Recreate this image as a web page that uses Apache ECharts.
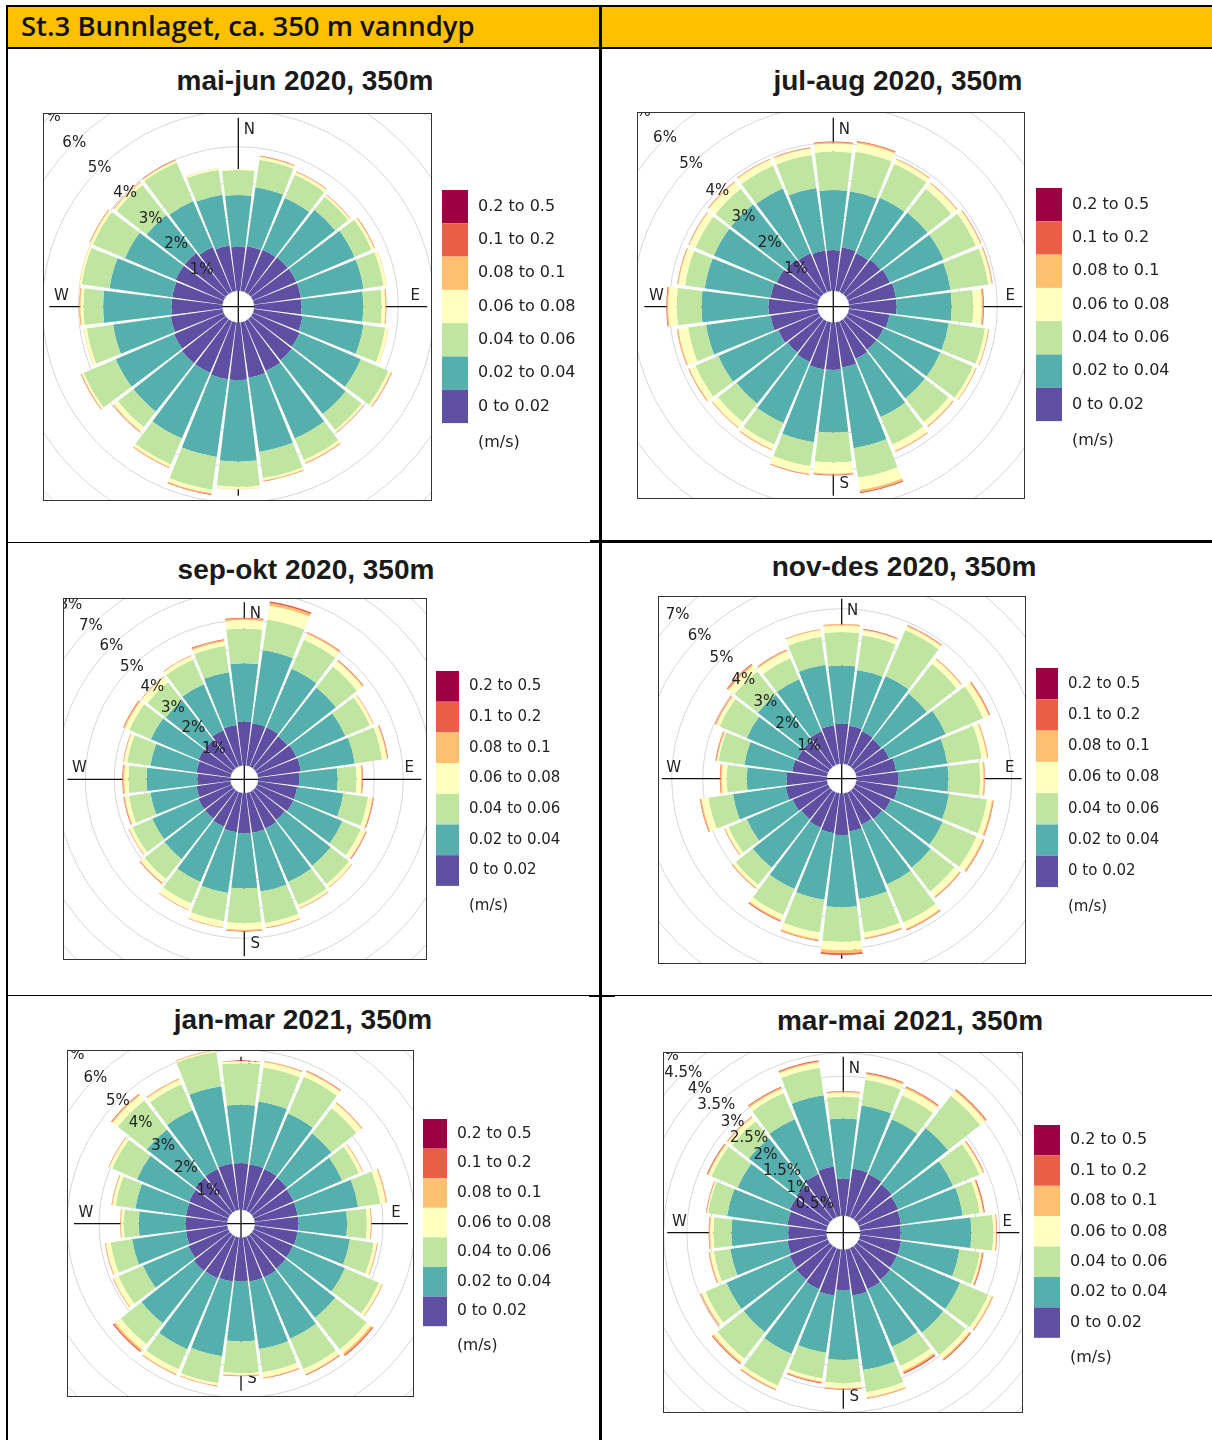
<!DOCTYPE html>
<html><head><meta charset="utf-8">
<script src="https://cdn.jsdelivr.net/npm/echarts@6/dist/echarts.min.js"></script>
<style>
html,body{margin:0;padding:0;background:#fff;}
body{width:1212px;height:1440px;position:relative;overflow:hidden;font-family:'Liberation Sans',Arial,sans-serif;}
.ln{position:absolute;background:#000;}
.ttl{position:absolute;width:420px;text-align:center;font-weight:bold;font-size:28px;line-height:32px;color:#1a1a1a;white-space:nowrap;}
.box{position:absolute;border:1px solid #333;box-sizing:border-box;}
.abs{position:absolute;}
</style></head><body>
<script>
// ---------------- data ----------------
const dirs = ['0','15','30','45','60','75','90','105','120','135','150','165','180','195','210','225','240','255','270','285','300','315','330','345'];
const bins = ['0 to 0.02','0.02 to 0.04','0.04 to 0.06','0.06 to 0.08','0.08 to 0.1','0.1 to 0.2','0.2 to 0.5'];
const binColors = ['#5E4FA2','#55AFAD','#BFE5A0','#FFFFBF','#FEBF6F','#EA5D47','#9E0142'];
const titles = ['mai-jun 2020, 350m','jul-aug 2020, 350m','sep-okt 2020, 350m','nov-des 2020, 350m','jan-mar 2021, 350m','mar-mai 2021, 350m'];
const headerText = 'St.3 Bunnlaget, ca. 350 m vanndyp';
const unitText = '(m/s)';
const compass = ['N','E','S','W'];
const none_02_05 = [0,0,0,0,0,0,0,0,0,0,0,0,0,0,0,0,0,0,0,0,0,0,0,0];

// mai-jun 2020 (% per direction, per speed bin)
const maijun_b1 = [1.22,1.25,1.28,1.30,1.31,1.31,1.31,1.36,1.41,1.45,1.50,1.55,1.59,1.59,1.55,1.55,1.50,1.45,1.41,1.41,1.45,1.45,1.36,1.27];
const maijun_b2 = [1.44,1.66,1.56,1.68,1.76,1.76,1.72,1.71,1.85,1.90,2.04,2.08,2.27,2.18,1.99,1.71,1.76,1.62,1.90,1.76,1.53,1.35,1.39,1.43];
const maijun_b3 = [0.69,0.77,0.70,0.46,0.51,0.56,0.51,0.61,0.83,0.56,0.65,0.74,0.70,0.92,0.78,0.55,0.97,0.74,0.55,0.78,0.97,1.06,1.16,0.70];
const maijun_b4 = [0.03,0.08,0.08,0.06,0.08,0.08,0.10,0.08,0.08,0.06,0.08,0.06,0.06,0.10,0.08,0.14,0.06,0.08,0.08,0.06,0.08,0.08,0.06,0.04];
const maijun_b5 = [0,0.02,0.02,0.01,0.02,0.01,0.02,0.01,0.02,0.01,0.02,0.02,0.01,0.03,0.02,0.02,0.02,0.01,0.02,0.01,0.02,0.02,0.02,0.01];
const maijun_b6 = [0,0.01,0.01,0.01,0.01,0,0.01,0,0.01,0.01,0.01,0.01,0,0.02,0.01,0.01,0.01,0,0.01,0,0.01,0.01,0.01,0];

// jul-aug 2020
const julaug_b1 = [1.10,1.19,1.14,1.19,1.23,1.28,1.28,1.10,1.05,1.05,1.10,1.23,1.28,1.28,1.19,1.14,1.19,1.28,1.32,1.28,1.23,1.19,1.14,1.10];
const julaug_b2 = [1.62,1.53,1.63,1.62,1.58,1.49,1.49,1.62,1.67,1.67,1.71,2.20,1.69,1.99,1.80,1.76,1.76,1.76,1.81,1.80,1.85,1.89,1.90,1.71];
const julaug_b3 = [1.04,1.08,0.99,0.81,0.95,1.03,0.58,0.99,0.95,0.81,0.81,0.81,0.81,0.65,0.63,0.63,0.67,0.49,0.67,0.54,0.54,0.54,0.67,0.90];
const julaug_b4 = [0.22,0.23,0.13,0.18,0.13,0.09,0.23,0.09,0.09,0.14,0.18,0.33,0.30,0.21,0.14,0.18,0.18,0.27,0.23,0.18,0.18,0.23,0.18,0.18];
const julaug_b5 = [0.03,0.04,0.02,0.02,0.02,0.02,0.04,0.01,0.01,0.02,0.02,0.06,0.03,0.02,0.02,0.02,0.02,0.03,0.03,0.02,0.02,0.02,0.02,0.02];
const julaug_b6 = [0.02,0.02,0.01,0.01,0.01,0.01,0.02,0.01,0.01,0.01,0.01,0.03,0.02,0.01,0.01,0.01,0.01,0.01,0.02,0.01,0.01,0.01,0.01,0.01];

// sep-okt 2020
const sepokt_b1 = [1.51,1.47,1.47,1.41,1.47,1.49,1.41,1.36,1.36,1.30,1.36,1.38,1.38,1.36,1.30,1.24,1.24,1.18,1.14,1.18,1.24,1.24,1.36,1.41];
const sepokt_b2 = [2.01,2.54,2.19,2.13,1.84,1.88,1.33,1.61,1.84,2.01,2.01,2.05,1.90,2.12,2.07,1.78,1.73,1.61,1.75,1.61,1.78,1.73,1.72,1.84];
const sepokt_b3 = [1.20,1.07,1.09,0.92,0.92,0.95,0.65,0.86,0.69,0.80,0.86,1.09,1.20,0.98,0.81,0.87,0.74,0.75,0.63,0.81,0.81,0.80,0.92,0.92];
const sepokt_b4 = [0.29,0.48,0.23,0.23,0.11,0.16,0.17,0.15,0.17,0.12,0.11,0.15,0.23,0.21,0.22,0.17,0.12,0.14,0.14,0.11,0.17,0.23,0.14,0.15];
const sepokt_b5 = [0.05,0.10,0.04,0.04,0.02,0.03,0.03,0.03,0.03,0.02,0.02,0.03,0.04,0.02,0.02,0.03,0.02,0.03,0.05,0.02,0.04,0.02,0.02,0.05];
const sepokt_b6 = [0.03,0.05,0.02,0.02,0.01,0.02,0.02,0.02,0.02,0.01,0.01,0.01,0.02,0.01,0.01,0.02,0.01,0.02,0.02,0.01,0.02,0.01,0.01,0.03];

// nov-des 2020
const novdes_b1 = [1.29,1.24,1.18,1.13,1.18,1.29,1.34,1.34,1.24,1.18,1.13,1.24,1.34,1.29,1.24,1.18,1.24,1.34,1.29,1.13,1.08,1.08,1.18,1.26];
const novdes_b2 = [1.88,1.82,1.94,1.88,1.99,1.67,1.62,1.67,1.82,1.99,2.10,2.20,2.32,2.17,2.15,1.99,1.61,1.72,1.29,1.56,1.77,1.88,1.83,1.97];
const novdes_b3 = [1.08,1.13,1.61,1.22,1.31,1.12,1.02,1.24,1.19,0.97,1.34,1.09,1.12,1.07,0.91,0.70,0.64,0.80,0.65,0.84,0.95,0.96,0.73,0.91];
const novdes_b4 = [0.21,0.16,0.13,0.18,0.19,0.17,0.11,0.16,0.21,0.21,0.21,0.16,0.27,0.22,0.16,0.11,0.11,0.22,0.16,0.05,0.12,0.23,0.25,0.21];
const novdes_b5 = [0.04,0.03,0.03,0.03,0.04,0.03,0.04,0.04,0.04,0.03,0.04,0.03,0.10,0.04,0.05,0.03,0.02,0.04,0.04,0.03,0.03,0.05,0.04,0.03];
const novdes_b6 = [0.01,0.02,0.02,0.01,0.02,0.01,0.01,0.02,0.02,0.02,0.02,0.02,0.05,0.02,0.03,0.01,0.01,0.02,0.02,0.02,0.02,0.03,0.02,0.01];

// jan-mar 2021
const janmar_b1 = [1.46,1.44,1.42,1.39,1.35,1.35,1.36,1.35,1.33,1.35,1.39,1.39,1.36,1.39,1.42,1.44,1.35,1.30,1.30,1.30,1.33,1.39,1.42,1.46];
const janmar_b2 = [1.82,1.98,1.89,1.77,1.65,1.91,1.52,1.65,1.77,1.96,2.08,2.13,1.88,2.36,2.41,2.08,1.55,1.70,1.46,1.60,1.77,1.92,2.00,2.44];
const janmar_b3 = [1.30,1.07,1.25,0.99,0.57,0.70,0.62,0.75,1.15,1.25,1.04,0.73,0.99,0.85,0.68,0.83,0.83,0.68,0.47,0.62,0.84,1.15,0.88,1.08];
const janmar_b4 = [0.06,0.17,0.16,0.20,0.11,0.17,0.12,0.10,0.10,0.16,0.16,0.16,0.07,0.07,0.16,0.21,0.16,0.15,0.08,0.10,0.10,0.21,0.16,0.05];
const janmar_b5 = [0.01,0.03,0.03,0.03,0.02,0.03,0.02,0.02,0.02,0.06,0.03,0.03,0.02,0.02,0.03,0.06,0.02,0.02,0.02,0.02,0.02,0.04,0.03,0.01];
const janmar_b6 = [0.01,0.01,0.02,0.01,0.01,0.01,0.01,0.01,0.01,0.04,0.02,0.01,0.01,0.01,0.01,0.04,0.01,0.01,0.01,0.01,0.01,0.02,0.01,0.01];

// mar-mai 2021
const marmai_b1 = [0.80,1.03,1.00,0.96,0.92,0.89,0.87,0.89,0.89,0.92,0.96,1.00,0.87,1.00,0.96,0.92,0.89,0.85,0.82,0.85,0.89,0.92,1.00,1.07];
const marmai_b2 = [1.29,1.37,1.29,1.54,1.28,1.34,1.52,1.27,1.48,1.45,1.34,1.62,1.50,1.24,1.51,1.44,1.48,1.24,1.22,1.31,1.22,1.30,1.29,1.55];
const marmai_b3 = [0.47,0.56,0.56,0.88,0.62,0.37,0.47,0.44,0.66,0.61,0.45,0.48,0.50,0.56,0.74,0.72,0.49,0.36,0.39,0.41,0.61,0.46,0.61,0.60];
const marmai_b4 = [0.09,0.11,0.16,0.13,0.08,0.07,0.06,0.04,0.08,0.10,0.12,0.11,0.11,0.07,0.08,0.10,0.09,0.08,0.07,0.03,0.07,0.11,0.10,0.11];
const marmai_b5 = [0.02,0.03,0.03,0.03,0.02,0.02,0.01,0.02,0.02,0.03,0.04,0.02,0.02,0.02,0.02,0.03,0.02,0.02,0.02,0.01,0.02,0.02,0.03,0.03];
const marmai_b6 = [0.01,0.02,0.02,0.02,0.01,0.02,0.01,0.02,0.01,0.02,0.03,0.01,0.01,0.02,0.01,0.02,0.01,0.01,0.01,0.01,0.02,0.01,0.02,0.02];

// ---------------- layout (positions only) ----------------
const panels = [
  {title:titles[0], tx:305, ty:81, box:[43,113,389,388], c:[238.3,306.7], off:16, k:36, max:7, step:1, L:189,
   data:[maijun_b1,maijun_b2,maijun_b3,maijun_b4,maijun_b5,maijun_b6,none_02_05], leg:[442,190,26,33.3,16]},
  {title:titles[1], tx:898, ty:81, box:[637,112,388,387], c:[833.3,306.7], off:16, k:37, max:7, step:1, L:189,
   data:[julaug_b1,julaug_b2,julaug_b3,julaug_b4,julaug_b5,julaug_b6,none_02_05], leg:[1036,188,26,33.3,16]},
  {title:titles[2], tx:306, ty:570, box:[63,598,364,362], c:[244.3,779.3], off:14, k:29, max:8, step:1, L:177,
   data:[sepokt_b1,sepokt_b2,sepokt_b3,sepokt_b4,sepokt_b5,sepokt_b6,none_02_05], leg:[436,671,23,30.7,15]},
  {title:titles[3], tx:904, ty:567, box:[658,596,368,368], c:[841.7,778.7], off:15, k:31, max:8, step:1, L:180,
   data:[novdes_b1,novdes_b2,novdes_b3,novdes_b4,novdes_b5,novdes_b6,none_02_05], leg:[1036,668,22,31.3,15]},
  {title:titles[4], tx:303, ty:1020, box:[67,1050,347,347], c:[241,1223.7], off:14, k:32, max:7, step:1, L:167,
   data:[janmar_b1,janmar_b2,janmar_b3,janmar_b4,janmar_b5,janmar_b6,none_02_05], leg:[423,1119,24,29.6,15.5]},
  {title:titles[5], tx:910, ty:1021, box:[663,1052,360,361], c:[843.3,1232.7], off:17, k:46.5, max:5, step:0.5, L:176,
   data:[marmai_b1,marmai_b2,marmai_b3,marmai_b4,marmai_b5,marmai_b6,none_02_05], leg:[1034,1125,26,30.4,16]}
];

function el(cls, css, text){
  const d = document.createElement('div');
  if (cls) d.className = cls;
  Object.assign(d.style, css);
  if (text !== undefined) d.textContent = text;
  document.body.appendChild(d);
  return d;
}

// table frame
el('abs', {left:'8px', top:'7px', width:'1204px', height:'40px', background:'#FFC000'});
el('ln', {left:'6px', top:'5px', width:'1206px', height:'2px'});
el('ln', {left:'6px', top:'46.5px', width:'1206px', height:'2px'});
el('ln', {left:'7px', top:'541.5px', width:'593px', height:'1px'});
el('ln', {left:'590px', top:'540px', width:'622px', height:'2.5px'});
el('ln', {left:'7px', top:'994.5px', width:'1205px', height:'1px'});
el('ln', {left:'589px', top:'995px', width:'26px', height:'2px'});
el('ln', {left:'6px', top:'5px', width:'2px', height:'1435px'});
el('ln', {left:'599px', top:'5px', width:'2.5px', height:'1435px'});
el('abs', {left:'21px', top:'9px', fontFamily:'"Open Sans", "Liberation Sans", sans-serif', fontWeight:'600', fontSize:'27.5px', lineHeight:'34px', color:'#111', whiteSpace:'nowrap'}, headerText);

const FONT = '"DejaVu Sans", sans-serif';

function roseOption(p, cx, cy){
  const R = p.off + p.max * p.k;
  const pol = {center:[cx, cy], radius:[p.off, R]};
  const lr = p.L - 12, lo = 11, fs = 15;
  const txt = (t, x, y) => ({type:'text', x:x, y:y, z:1,
     style:{text:t, fill:'#222', fontSize:fs, fontFamily:FONT, align:'center', verticalAlign:'middle'}});
  return {
    animation:false,
    polar:[Object.assign({}, pol), Object.assign({}, pol), {center:[cx,cy], radius:[0, p.L]}, Object.assign({}, pol)],
    angleAxis:[
      {polarIndex:0, type:'category', data:dirs, startAngle:90, boundaryGap:false, show:false},
      {polarIndex:1, type:'value', min:0, max:360, startAngle:90, show:false},
      {polarIndex:2, type:'category', data:compass, startAngle:90, boundaryGap:false, z:1,
        axisLine:{show:false}, axisTick:{show:false}, axisLabel:{show:false},
        splitLine:{show:true, lineStyle:{color:'#111', width:1.3}}},
      {polarIndex:3, type:'value', min:0, max:360, startAngle:135, show:false}
    ],
    radiusAxis:[
      {polarIndex:0, type:'value', min:0, max:p.max, show:false},
      {polarIndex:1, type:'value', min:0, max:p.max, interval:p.step, z:0,
        axisLine:{show:false}, axisTick:{show:false}, axisLabel:{show:false},
        splitLine:{show:true, lineStyle:{color:'#d6d6de', width:1}}},
      {polarIndex:2, type:'value', min:0, max:1, show:false},
      {polarIndex:3, type:'value', min:0, max:p.max, interval:p.step, z:10,
        axisLine:{show:false}, axisTick:{show:false}, splitLine:{show:false},
        axisLabel:{show:true, margin:0, align:'center', verticalAlign:'middle', fontSize:15, fontFamily:FONT, color:'#222',
          padding:[5,0,0,0],
          showMinLabel:true, showMaxLabel:true, formatter:(v)=> v===0 ? '' : (v + '%')}}
    ],
    graphic:[
      txt(compass[0], cx + lo, cy - lr),
      txt(compass[1], cx + lr, cy - lo),
      txt(compass[2], cx + lo, cy + lr),
      txt(compass[3], cx - lr, cy - lo)
    ],
    series: bins.map((b, i) => ({
      type:'bar', coordinateSystem:'polar', polarIndex:0, stack:'rose', name:b,
      data:p.data[i], barCategoryGap:'9%', z:2,
      itemStyle:{color:binColors[i]}
    }))
  };
}

function legendOption(p){
  const [lx, ly, w, h, fs] = p.leg;
  return {
    animation:false,
    grid:{show:false, left:0, top:0, width:1, height:1},
    xAxis:{show:false, type:'category', data:['x']},
    yAxis:{show:false, type:'value'},
    legend:{orient:'vertical', left:0, top:0, padding:0, itemGap:0, itemWidth:w, itemHeight:h,
      icon:'rect', selectedMode:false, data:bins.slice().reverse(),
      textStyle:{fontSize:fs, fontFamily:FONT, color:'#222', padding:[0,0,0,5]}},
    graphic:[{type:'text', x:w + 10, y:7*h + 20,
      style:{text:unitText, fill:'#222', fontSize:fs, fontFamily:FONT, align:'left', verticalAlign:'middle'}}],
    series: bins.map((b, i) => ({type:'bar', name:b, data:[], itemStyle:{color:binColors[i]}}))
  };
}

panels.forEach((p) => {
  el('ttl', {left:(p.tx - 210) + 'px', top:(p.ty - 16) + 'px'}, p.title);
  const [bx, by, bw, bh] = p.box;
  const wrap = el('box', {left:bx + 'px', top:by + 'px', width:bw + 'px', height:bh + 'px'});
  const inner = document.createElement('div');
  Object.assign(inner.style, {position:'absolute', left:'0px', top:'0px', width:(bw - 2) + 'px', height:(bh - 2) + 'px'});
  wrap.appendChild(inner);
  const chart = echarts.init(inner, null, {renderer:'canvas'});
  chart.setOption(roseOption(p, p.c[0] - bx - 1, p.c[1] - by - 1));

  const [lx, ly, w, h] = p.leg;
  const ld = el('abs', {left:lx + 'px', top:ly + 'px', width:'170px', height:(7*h + 40) + 'px'});
  const lchart = echarts.init(ld, null, {renderer:'canvas'});
  lchart.setOption(legendOption(p));
});
</script>
</body></html>
